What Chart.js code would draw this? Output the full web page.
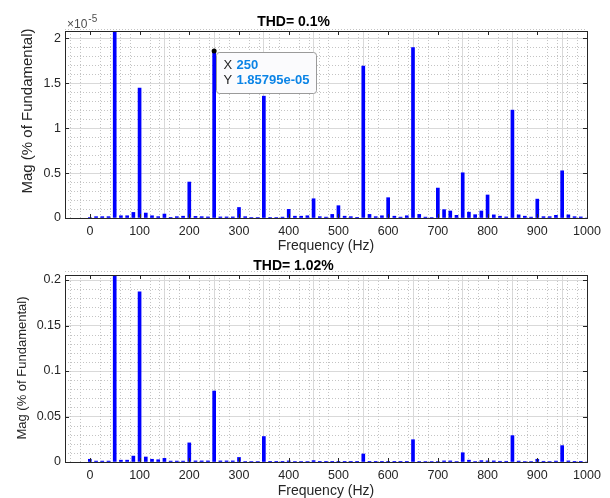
<!DOCTYPE html>
<html>
<head>
<meta charset="utf-8">
<script src="https://cdn.jsdelivr.net/npm/chart.js@4.4.1/dist/chart.umd.min.js"></script>
<style>
  body { margin: 0; background: #fff; width: 610px; height: 498px; position: relative; overflow: hidden; }
  canvas { position: absolute; left: 0; }
  #topChart { top: 0; }
  #botChart { top: 250px; }
</style>
</head>
<body>
<canvas id="topChart" width="610" height="260"></canvas>
<canvas id="botChart" width="610" height="248"></canvas>
<script>
// FFT bins (Hz), 12.5 Hz resolution
var freqs = [
  0, 12.5, 25, 37.5, 50, 62.5, 75, 87.5,
  100, 112.5, 125, 137.5, 150, 162.5, 175, 187.5,
  200, 212.5, 225, 237.5, 250, 262.5, 275, 287.5,
  300, 312.5, 325, 337.5, 350, 362.5, 375, 387.5,
  400, 412.5, 425, 437.5, 450, 462.5, 475, 487.5,
  500, 512.5, 525, 537.5, 550, 562.5, 575, 587.5,
  600, 612.5, 625, 637.5, 650, 662.5, 675, 687.5,
  700, 712.5, 725, 737.5, 750, 762.5, 775, 787.5,
  800, 812.5, 825, 837.5, 850, 862.5, 875, 887.5,
  900, 912.5, 925, 937.5, 950, 962.5, 975, 987.5,
  1000
];

// top spectrum, in units of 1e-5 (% of fundamental)
var magTop = [
  0.005, 0.015, 0.015, 0.015, 2.3, 0.025, 0.025, 0.062,
  1.444, 0.055, 0.025, 0.015, 0.044, 0.004, 0.015, 0.02,
  0.40, 0.018, 0.015, 0.012, 1.85795, 0.012, 0.012, 0.012,
  0.117, 0.015, 0.005, 0.005, 1.355, 0.005, 0.005, 0.01,
  0.096, 0.02, 0.02, 0.025, 0.214, 0.015, 0.01, 0.04,
  0.137, 0.02, 0.015, 0.003, 1.69, 0.04, 0.015, 0.025,
  0.226, 0.02, 0.01, 0.025, 1.896, 0.04, 0.01, 0.005,
  0.333, 0.093, 0.078, 0.03, 0.503, 0.065, 0.037, 0.078,
  0.256, 0.035, 0.02, 0.012, 1.2, 0.035, 0.02, 0.01,
  0.21, 0.015, 0.015, 0.03, 0.525, 0.035, 0.015, 0.012,
  0
];

// bottom spectrum (% of fundamental)
var magBot = [
  0.003, 0.001, 0.001, 0.001, 0.25, 0.002, 0.002, 0.0065,
  0.187, 0.0055, 0.003, 0.0025, 0.004, 0.001, 0.001, 0.001,
  0.021, 0.0012, 0.0012, 0.0012, 0.078, 0.0012, 0.0012, 0.0012,
  0.005, 0.0005, 0.0005, 0.0005, 0.028, 0.0003, 0.0003, 0.0003,
  0.0012, 0.0006, 0.0006, 0.0006, 0.0015, 0.0003, 0.0003, 0.0003,
  0.0003, 0.0003, 0.0003, 0.0003, 0.0088, 0.0003, 0.0003, 0.0003,
  0.0003, 0.0003, 0.0003, 0.0003, 0.0245, 0.0005, 0.0005, 0.0005,
  0.0005, 0.0012, 0.0012, 0.0005, 0.0102, 0.002, 0.0005, 0.0015,
  0.0012, 0.0012, 0.0008, 0.0008, 0.029, 0.001, 0.0005, 0.0005,
  0.003, 0.0008, 0.0005, 0.001, 0.018, 0.0012, 0.0003, 0.0003,
  0
];

var xTicks = [0, 100, 200, 300, 400, 500, 600, 700, 800, 900, 1000];
var yTicksTop = [0, 0.5, 1, 1.5, 2];
var yTicksBot = [0, 0.05, 0.1, 0.15, 0.2];

var FONT = "'Liberation Sans', Arial, Helvetica, sans-serif";
var TXT = "#262626";

// minor grid, box, inner ticks and extra texts
var matlabAxes = {
  id: "matlabAxes",
  beforeDatasetsDraw: function (chart, args, o) {
    var ctx = chart.ctx, a = chart.chartArea;
    var xs = chart.scales.x, ys = chart.scales.y;
    ctx.save();
    ctx.strokeStyle = "#c4c4c4";
    ctx.lineWidth = 1;
    ctx.setLineDash([1, 2]);
    ctx.beginPath();
    for (var v = -40; v < 1000; v += 20) {
      if (v % 100 === 0) continue;
      var px = Math.round(xs.getPixelForValue(v)) + 0.5;
      ctx.moveTo(px, a.top); ctx.lineTo(px, a.bottom);
    }
    var step = o.minorY, n = Math.round(ys.max / step);
    for (var i = 1; i <= n; i++) {
      if (i % 5 === 0) continue;
      var py = Math.round(ys.getPixelForValue(i * step)) + 0.5;
      ctx.moveTo(a.left, py); ctx.lineTo(a.right, py);
    }
    ctx.stroke();
    ctx.restore();
  },
  afterDatasetsDraw: function (chart, args, o) {
    var ctx = chart.ctx, a = chart.chartArea;
    var xs = chart.scales.x, ys = chart.scales.y;
    ctx.save();
    ctx.strokeStyle = TXT;
    ctx.lineWidth = 1;
    ctx.strokeRect(Math.round(a.left) + 0.5, Math.round(a.top) + 0.5,
      Math.round(a.right - a.left), Math.round(a.bottom - a.top));
    ctx.beginPath();
    xTicks.forEach(function (v) {
      var px = Math.round(xs.getPixelForValue(v)) + 0.5;
      ctx.moveTo(px, a.bottom); ctx.lineTo(px, a.bottom - 4);
      ctx.moveTo(px, a.top); ctx.lineTo(px, a.top + 4);
    });
    o.yTicks.forEach(function (v) {
      var py = Math.round(ys.getPixelForValue(v)) + 0.5;
      ctx.moveTo(a.left, py); ctx.lineTo(a.left + 4, py);
      ctx.moveTo(a.right, py); ctx.lineTo(a.right - 4, py);
    });
    ctx.stroke();

    // y axis label
    ctx.fillStyle = TXT;
    ctx.font = o.yTitleSize + "px " + FONT;
    ctx.textAlign = "center";
    ctx.textBaseline = "middle";
    ctx.translate(o.yTitleX, o.yTitleY);
    ctx.rotate(-Math.PI / 2);
    ctx.fillText("Mag (% of Fundamental)", 0, 0);
    ctx.restore();

    if (o.exponent) {
      ctx.save();
      ctx.fillStyle = "#4d4d4d";
      ctx.textBaseline = "alphabetic";
      ctx.textAlign = "left";
      ctx.font = "12px " + FONT;
      ctx.fillText("\u00d710", a.left + 2, a.top - 3);
      var w = ctx.measureText("\u00d710").width;
      ctx.font = "10px " + FONT;
      ctx.fillText(o.exponent, a.left + 3 + w, a.top - 9);
      ctx.restore();
    }

    if (o.tip) {
      var idx = freqs.indexOf(o.tip);
      var val = chart.data.datasets[0].data[idx].y;
      var px = xs.getPixelForValue(o.tip), py = ys.getPixelForValue(val);
      ctx.save();
      ctx.fillStyle = "#000";
      ctx.beginPath();
      ctx.arc(px, py, 2.5, 0, Math.PI * 2);
      ctx.fill();
      var bx = Math.round(px) + 2.5, by = Math.round(py) + 1.5, bw = 100, bh = 41;
      ctx.fillStyle = "#fbfbfd";
      ctx.strokeStyle = "#9a9a9a";
      ctx.beginPath();
      ctx.roundRect(bx, by, bw, bh, 3);
      ctx.fill();
      ctx.stroke();
      var yStr = (val * 1e-5).toExponential(5).replace(/e-(\d)$/, "e-0$1");
      ctx.textBaseline = "middle";
      ctx.textAlign = "left";
      ctx.font = "13px " + FONT;
      ctx.fillStyle = TXT;
      ctx.fillText("X", bx + 7, by + 13);
      ctx.fillText("Y", bx + 7, by + 28);
      ctx.font = "bold 13px " + FONT;
      ctx.fillStyle = "#0b84e6";
      ctx.fillText(String(o.tip), bx + 20, by + 13);
      ctx.fillText(yStr, bx + 20, by + 28);
      ctx.restore();
    }
  }
};

function makeChart(id, values, yMax, yTicks, opts) {
  return new Chart(document.getElementById(id), {
    type: "bar",
    data: {
      datasets: [{
        data: freqs.map(function (f, i) { return { x: f, y: values[i] }; }),
        backgroundColor: "#0000ff",
        borderWidth: 0,
        barThickness: 3
      }]
    },
    options: {
      responsive: false,
      animation: false,
      events: [],
      layout: { padding: { left: 0, right: 23, top: 0, bottom: 0 } },
      plugins: {
        legend: { display: false },
        tooltip: { enabled: false },
        title: {
          display: true,
          text: opts.title,
          color: "#000",
          font: { family: FONT, size: 14, weight: "bold" },
          padding: { top: opts.titleTop, bottom: 0.2 }
        },
        matlabAxes: opts.axes
      },
      scales: {
        x: {
          type: "linear",
          min: -50,
          max: 1000,
          offset: false,
          afterBuildTicks: function (s) { s.ticks = xTicks.map(function (v) { return { value: v }; }); },
          afterFit: function (s) { s.height = opts.xHeight; },
          grid: { color: "#d9d9d9", drawTicks: false },
          border: { display: false },
          ticks: {
            padding: 6,
            color: TXT,
            font: { family: FONT, size: 12.5 },
            maxRotation: 0,
            callback: function (v) { return String(v); }
          },
          title: {
            display: true,
            text: "Frequency (Hz)",
            color: TXT,
            font: { family: FONT, size: 14 },
            padding: { top: 0, bottom: opts.xTitleBottom }
          }
        },
        y: {
          min: 0,
          max: yMax,
          afterBuildTicks: function (s) { s.ticks = yTicks.map(function (v) { return { value: v }; }); },
          afterFit: function (s) { s.width = 65; },
          grid: { color: "#d9d9d9", drawTicks: false },
          border: { display: false },
          ticks: {
            padding: 4,
            color: TXT,
            font: { family: FONT, size: 12.5 },
            callback: function (v) { return String(v); }
          }
        }
      }
    },
    plugins: [matlabAxes]
  });
}

makeChart("topChart", magTop, 2.08, yTicksTop, {
  title: "THD= 0.1%",
  titleTop: 14,
  xHeight: 42,
  xTitleBottom: 5,
  axes: { minorY: 0.1, yTicks: yTicksTop, yTitleX: 28, yTitleY: 111, yTitleSize: 15, exponent: "-5", tip: 250 }
});

makeChart("botChart", magBot, 0.2055, yTicksBot, {
  title: "THD= 1.02%",
  titleTop: 8,
  xHeight: 36,
  xTitleBottom: -1.5,
  axes: { minorY: 0.01, yTicks: yTicksBot, yTitleX: 22, yTitleY: 118, yTitleSize: 13, exponent: null, tip: null }
});
</script>
</body>
</html>
